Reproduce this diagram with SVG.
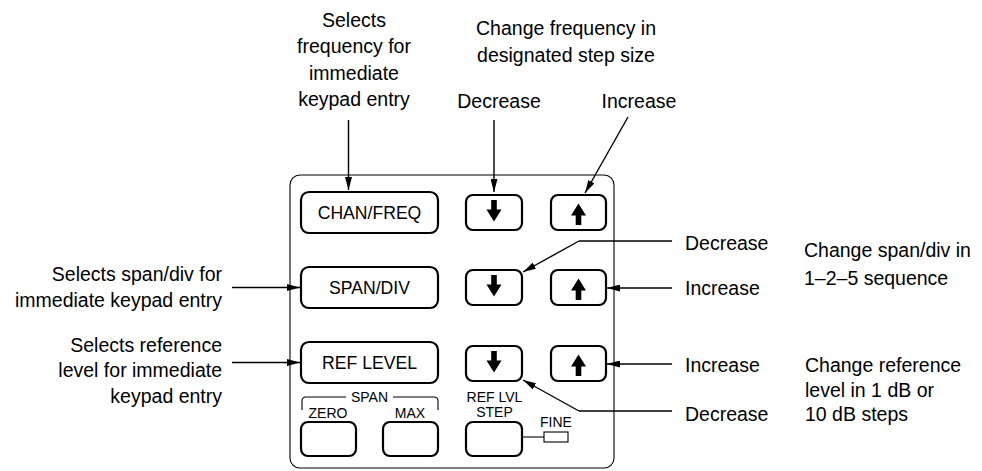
<svg xmlns="http://www.w3.org/2000/svg" width="982" height="471" viewBox="0 0 982 471">
<defs>
<style>
text{font-family:"Liberation Sans",Arial,sans-serif;fill:#000}
.lbl{font-size:19.5px}
.btn{font-size:17.6px;text-anchor:middle}
.sm{font-size:14px;text-anchor:middle}
.key{fill:#fff;stroke:#000;stroke-width:2.2}
.thin{fill:none;stroke:#000;stroke-width:1.1}
.lead{fill:none;stroke:#000;stroke-width:1.4;marker-end:url(#ah)}
.line{fill:none;stroke:#000;stroke-width:1.4}
</style>
<marker id="ah" markerUnits="userSpaceOnUse" markerWidth="13" markerHeight="7" refX="13" refY="3.5" orient="auto">
<path d="M0,0 L13,3.5 L0,7 Z" fill="#000"/>
</marker>
<path id="dn" d="M-2.8,-12.5 H2.8 V-3 H7.5 L0,9 L-7.5,-3 H-2.8 Z" fill="#000"/>
<path id="up" d="M-2.8,12.5 H2.8 V3 H7.5 L0,-9 L-7.5,3 H-2.8 Z" fill="#000"/>
</defs>
<rect width="982" height="471" fill="#fff"/>

<g id="panel">
<rect class="thin" x="290" y="175" width="324" height="293" rx="10"/>
</g>

<g id="chan-freq"><rect class="key" x="301" y="192" width="137" height="41" rx="8"/><text class="btn" x="369.5" y="219">CHAN/FREQ</text></g>
<g id="freq-down"><rect class="key" x="466" y="195" width="56" height="35" rx="7"/><use href="#dn" x="494" y="212.5"/></g>
<g id="freq-up"><rect class="key" x="551" y="195" width="55" height="35" rx="7"/><use href="#up" x="578.5" y="212.5"/></g>

<g id="span-div"><rect class="key" x="301" y="267" width="137" height="41" rx="8"/><text class="btn" x="369.5" y="294">SPAN/DIV</text></g>
<g id="span-down"><rect class="key" x="466" y="270" width="56" height="35" rx="7"/><use href="#dn" x="494" y="287.5"/></g>
<g id="span-up"><rect class="key" x="551" y="270" width="55" height="35" rx="7"/><use href="#up" x="578.5" y="287.5"/></g>

<g id="ref-level"><rect class="key" x="301" y="342" width="137" height="41" rx="8"/><text class="btn" x="369.5" y="369">REF LEVEL</text></g>
<g id="ref-down"><rect class="key" x="466" y="346" width="56" height="35" rx="7"/><use href="#dn" x="494" y="363.5"/></g>
<g id="ref-up"><rect class="key" x="551" y="346" width="55" height="35" rx="7"/><use href="#up" x="578.5" y="363.5"/></g>

<g id="span-group">
<path class="thin" d="M302,410 V401 Q302,397 306,397 H346 M393,397 H434 Q438,397 438,401 V410"/>
<text class="sm" x="369.5" y="402">SPAN</text>
</g>
<g id="zero"><text class="sm" x="328" y="418">ZERO</text><rect class="key" x="301" y="422" width="55" height="34" rx="7"/></g>
<g id="max"><text class="sm" x="410" y="418">MAX</text><rect class="key" x="383" y="422" width="55" height="34" rx="7"/></g>
<g id="ref-lvl-step"><text class="sm" x="494.5" y="402">REF LVL</text><text class="sm" x="494.5" y="417">STEP</text><rect class="key" x="466" y="422" width="56" height="34" rx="7"/></g>
<g id="fine"><line class="thin" x1="522" y1="437" x2="544" y2="437"/><rect class="thin" x="544" y="432" width="24" height="10"/><text class="sm" x="556" y="427">FINE</text></g>

<g id="connectors">
<line class="lead" x1="348.5" y1="120" x2="348.5" y2="190"/>
<line class="lead" x1="494" y1="120" x2="494" y2="192"/>
<line class="lead" x1="628" y1="117" x2="585" y2="193"/>
<line class="lead" x1="232" y1="287.5" x2="300" y2="287.5"/>
<line class="lead" x1="232" y1="362.5" x2="300" y2="362.5"/>
<path class="line" d="M672,241 H579"/>
<line class="lead" x1="579" y1="241" x2="523" y2="272"/>
<line class="lead" x1="672" y1="288" x2="607" y2="288"/>
<line class="lead" x1="672" y1="364" x2="607" y2="364"/>
<path class="line" d="M672,411 H579"/>
<line class="lead" x1="579" y1="411" x2="523" y2="380"/>
</g>

<g id="labels">
<text class="lbl" text-anchor="middle" x="354" y="27">Selects</text>
<text class="lbl" text-anchor="middle" x="354" y="53">frequency for</text>
<text class="lbl" text-anchor="middle" x="354" y="80">immediate</text>
<text class="lbl" text-anchor="middle" x="354" y="106">keypad entry</text>
<text class="lbl" text-anchor="middle" x="566" y="35">Change frequency in</text>
<text class="lbl" text-anchor="middle" x="566" y="62">designated step size</text>
<text class="lbl" text-anchor="middle" x="499" y="108">Decrease</text>
<text class="lbl" text-anchor="middle" x="639" y="108">Increase</text>
<text class="lbl" text-anchor="end" x="222" y="281">Selects span/div for</text>
<text class="lbl" text-anchor="end" x="222" y="307">immediate keypad entry</text>
<text class="lbl" text-anchor="end" x="222" y="352">Selects reference</text>
<text class="lbl" text-anchor="end" x="222" y="377">level for immediate</text>
<text class="lbl" text-anchor="end" x="222" y="403">keypad entry</text>
<text class="lbl" x="685" y="250">Decrease</text>
<text class="lbl" x="685" y="295">Increase</text>
<text class="lbl" x="685" y="372">Increase</text>
<text class="lbl" x="685" y="421">Decrease</text>
<text class="lbl" x="804" y="257">Change span/div in</text>
<text class="lbl" x="804" y="285">1–2–5 sequence</text>
<text class="lbl" x="805" y="372">Change reference</text>
<text class="lbl" x="805" y="397">level in 1 dB or</text>
<text class="lbl" x="805" y="421">10 dB steps</text>
</g>
</svg>
